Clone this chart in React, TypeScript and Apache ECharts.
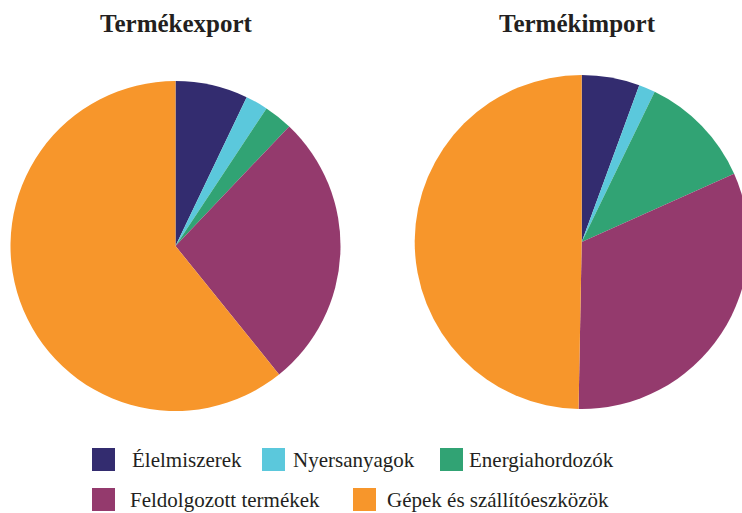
import React, { useEffect, useRef } from "react";
import * as echarts from "echarts";

const categories = [
  "Élelmiszerek",
  "Nyersanyagok",
  "Energiahordozók",
  "Feldolgozott termékek",
  "Gépek és szállítóeszközök",
];
const colors = ["#332c6f", "#5bc8dc", "#31a374", "#943a6d", "#f7962b"];
const exportValues = [7.1, 2.2, 2.8, 27.1, 60.8];
const importValues = [5.6, 1.6, 11.1, 32.0, 49.7];
const titles = ["Termékexport", "Termékimport"];

const FONT = "'Liberation Serif', 'DejaVu Serif', serif";
const TEXT_COLOR = "#231f20";

const legendPos = [
  { left: 92, top: 448, gap: 17 },
  { left: 262, top: 448, gap: 8 },
  { left: 440, top: 448, gap: 6 },
  { left: 92, top: 488, gap: 15 },
  { left: 353, top: 488, gap: 11 },
];

export default function App() {
  const ref = useRef<HTMLDivElement>(null);
  useEffect(() => {
    document.body.style.margin = "0";
    if (!ref.current) return;
    const chart = echarts.init(ref.current, undefined, { renderer: "svg" });
    const mk = (vals: number[]) =>
      categories.map((name, i) => ({ name, value: vals[i], itemStyle: { color: colors[i] } }));
    chart.setOption({
      animation: false,
      color: colors,
      title: [
        { text: titles[0], left: 176, top: 11, textAlign: "center", padding: 0 },
        { text: titles[1], left: 577, top: 11, textAlign: "center", padding: 0 },
      ].map((t) => ({
        ...t,
        textStyle: { fontFamily: FONT, fontWeight: "bold", fontSize: 25, color: TEXT_COLOR },
      })),
      legend: categories.map((name, i) => ({
        data: [name],
        left: legendPos[i].left,
        top: legendPos[i].top,
        padding: 0,
        itemWidth: 23,
        itemHeight: 23,
        icon: "rect",
        selectedMode: false,
        textStyle: {
          fontFamily: FONT,
          fontSize: 21,
          color: TEXT_COLOR,
          padding: [5, 0, 0, legendPos[i].gap - 5],
        },
      })),
      series: [
        {
          type: "pie",
          center: [175.5, 246],
          radius: 165,
          startAngle: 90,
          clockwise: true,
          label: { show: false },
          labelLine: { show: false },
          emphasis: { disabled: true },
          silent: true,
          data: mk(exportValues),
        },
        {
          type: "pie",
          center: [581.7, 242],
          radius: 167,
          startAngle: 90,
          clockwise: true,
          label: { show: false },
          labelLine: { show: false },
          emphasis: { disabled: true },
          silent: true,
          data: mk(importValues),
        },
      ],
    });
    return () => chart.dispose();
  }, []);
  return <div ref={ref} style={{ width: 742, height: 513 }} />;
}
